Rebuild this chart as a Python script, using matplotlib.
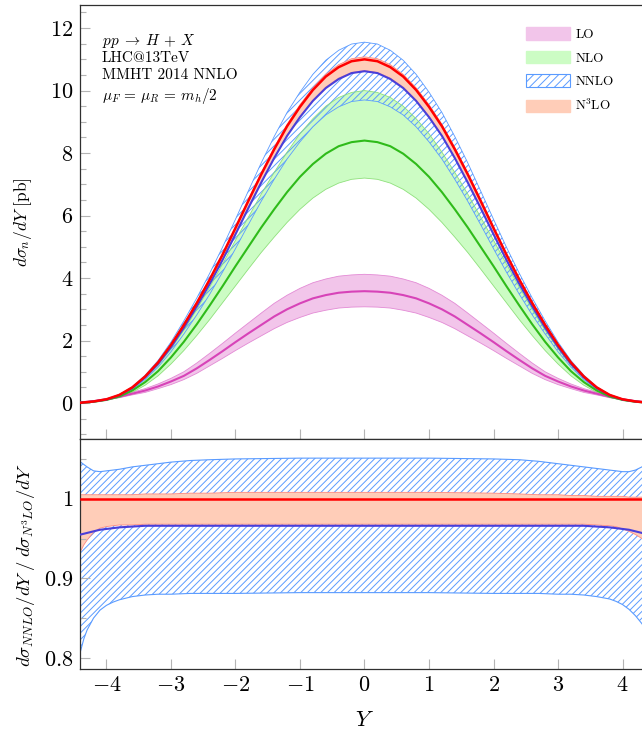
import matplotlib
matplotlib.use("Agg")
import matplotlib.pyplot as plt
from matplotlib.patches import Patch
from matplotlib.ticker import MultipleLocator, FuncFormatter

plt.rcParams['font.family'] = ['cmr10', 'DejaVu Serif']
plt.rcParams['mathtext.fontset'] = 'cm'
plt.rcParams['axes.formatter.use_mathtext'] = True
plt.rcParams['hatch.linewidth'] = 0.7

# colours
LO_LINE, LO_FILL, LO_EDGE = '#d743b8', '#f2c5ea', '#e38ad5'
NLO_LINE, NLO_FILL, NLO_EDGE = '#2fbb1a', '#ccfcc4', '#8fe07c'
NNLO_LINE, NNLO_EDGE = '#4a3fd9', '#5a9bff'
N3LO_LINE, N3LO_FILL, N3LO_EDGE = '#ff0000', '#ffcdb8', '#ff8a80'
plt.rcParams['hatch.color'] = NNLO_EDGE
HATCH = '/////'

# ---- top panel: d sigma / dY [pb]
Y_top = [-4.4, -4.2, -4.0, -3.8, -3.6, -3.4, -3.2, -3.0, -2.8, -2.6, -2.4, -2.2,
         -2.0, -1.8, -1.6, -1.4, -1.2, -1.0, -0.8, -0.6, -0.4, -0.2, 0.0,
         0.2, 0.4, 0.6, 0.8, 1.0, 1.2, 1.4, 1.6, 1.8, 2.0, 2.2,
         2.4, 2.6, 2.8, 3.0, 3.2, 3.4, 3.6, 3.8, 4.0, 4.2, 4.4]

lo_c = [0.02, 0.06, 0.12, 0.20, 0.30, 0.40, 0.53, 0.69, 0.87, 1.11, 1.38, 1.66, 1.95, 2.23, 2.5,
        2.77, 3.0, 3.19, 3.35, 3.455, 3.53, 3.565, 3.58, 3.565, 3.53, 3.455, 3.35, 3.19, 3.0,
        2.77, 2.5, 2.23, 1.95, 1.66, 1.38, 1.11, 0.87, 0.69, 0.53, 0.40, 0.30, 0.20, 0.12, 0.06, 0.02]
lo_hi = [0.02, 0.07, 0.14, 0.23, 0.345, 0.46, 0.61, 0.79, 1.0, 1.28, 1.59, 1.91, 2.24, 2.56, 2.88,
         3.19, 3.45, 3.67, 3.85, 3.97, 4.06, 4.10, 4.12, 4.10, 4.06, 3.97, 3.85, 3.67, 3.45,
         3.19, 2.88, 2.56, 2.24, 1.91, 1.59, 1.28, 1.0, 0.79, 0.61, 0.46, 0.345, 0.23, 0.14, 0.07, 0.02]
lo_lo = [0.02, 0.05, 0.10, 0.17, 0.26, 0.34, 0.46, 0.59, 0.75, 0.95, 1.19, 1.43, 1.68, 1.92, 2.15,
         2.38, 2.58, 2.74, 2.88, 2.97, 3.04, 3.07, 3.08, 3.07, 3.04, 2.97, 2.88, 2.74, 2.58,
         2.38, 2.15, 1.92, 1.68, 1.43, 1.19, 0.95, 0.75, 0.59, 0.46, 0.34, 0.26, 0.17, 0.10, 0.05, 0.02]

nlo_c = [0.01, 0.04, 0.1, 0.21, 0.4, 0.67, 1.02, 1.46, 1.96, 2.52, 3.12, 3.74, 4.38, 5.0, 5.62,
         6.2, 6.75, 7.24, 7.65, 7.98, 8.22, 8.35, 8.4, 8.35, 8.22, 7.98, 7.65, 7.24, 6.75,
         6.2, 5.62, 5.0, 4.38, 3.74, 3.12, 2.52, 1.96, 1.46, 1.02, 0.67, 0.4, 0.21, 0.1, 0.04, 0.01]
nlo_hi = [0.01, 0.05, 0.12, 0.25, 0.48, 0.80, 1.21, 1.74, 2.33, 3.0, 3.71, 4.45, 5.21, 5.95, 6.69,
          7.38, 8.03, 8.62, 9.1, 9.5, 9.78, 9.94, 10.0, 9.94, 9.78, 9.5, 9.1, 8.62, 8.03,
          7.38, 6.69, 5.95, 5.21, 4.45, 3.71, 3.0, 2.33, 1.74, 1.21, 0.80, 0.48, 0.25, 0.12, 0.05, 0.01]
nlo_lo = [0.01, 0.03, 0.09, 0.18, 0.34, 0.57, 0.87, 1.25, 1.68, 2.16, 2.67, 3.21, 3.75, 4.29, 4.82,
          5.31, 5.78, 6.2, 6.56, 6.84, 7.04, 7.16, 7.2, 7.16, 7.04, 6.84, 6.56, 6.2, 5.78,
          5.31, 4.82, 4.29, 3.75, 3.21, 2.67, 2.16, 1.68, 1.25, 0.87, 0.57, 0.34, 0.18, 0.09, 0.03, 0.01]

nnlo_c = [0.01, 0.05, 0.11, 0.25, 0.48, 0.82, 1.25, 1.79, 2.41, 3.09, 3.81, 4.58, 5.40, 6.24, 7.06,
          7.84, 8.55, 9.15, 9.67, 10.08, 10.37, 10.56, 10.62, 10.56, 10.37, 10.08, 9.67, 9.15, 8.55,
          7.84, 7.06, 6.24, 5.40, 4.58, 3.81, 3.09, 2.41, 1.79, 1.25, 0.82, 0.48, 0.25, 0.11, 0.05, 0.01]
nnlo_hi = [0.01, 0.05, 0.12, 0.27, 0.52, 0.89, 1.36, 1.95, 2.63, 3.36, 4.15, 4.99, 5.88, 6.79, 7.69,
           8.53, 9.30, 9.95, 10.52, 10.97, 11.29, 11.49, 11.55, 11.49, 11.29, 10.97, 10.52, 9.95, 9.30,
           8.53, 7.69, 6.79, 5.88, 4.99, 4.15, 3.36, 2.63, 1.95, 1.36, 0.89, 0.52, 0.27, 0.12, 0.05, 0.01]
nnlo_lo = [0.01, 0.04, 0.11, 0.23, 0.44, 0.75, 1.15, 1.64, 2.21, 2.82, 3.48, 4.19, 4.94, 5.71, 6.46,
           7.16, 7.81, 8.36, 8.84, 9.22, 9.48, 9.65, 9.70, 9.65, 9.48, 9.22, 8.84, 8.36, 7.81,
           7.16, 6.46, 5.71, 4.94, 4.19, 3.48, 2.82, 2.21, 1.64, 1.15, 0.75, 0.44, 0.23, 0.11, 0.04, 0.01]

n3lo_c = [0.01, 0.05, 0.12, 0.26, 0.5, 0.85, 1.3, 1.86, 2.5, 3.2, 3.95, 4.75, 5.6, 6.47, 7.32,
          8.12, 8.86, 9.48, 10.02, 10.45, 10.75, 10.94, 11.0, 10.94, 10.75, 10.45, 10.02, 9.48, 8.86,
          8.12, 7.32, 6.47, 5.6, 4.75, 3.95, 3.2, 2.5, 1.86, 1.3, 0.85, 0.5, 0.26, 0.12, 0.05, 0.01]
n3lo_hi = [0.01, 0.05, 0.12, 0.26, 0.50, 0.86, 1.31, 1.87, 2.52, 3.22, 3.98, 4.78, 5.64, 6.52, 7.37,
           8.18, 8.92, 9.55, 10.09, 10.52, 10.83, 11.02, 11.08, 11.02, 10.83, 10.52, 10.09, 9.55, 8.92,
           8.18, 7.37, 6.52, 5.64, 4.78, 3.98, 3.22, 2.52, 1.87, 1.31, 0.86, 0.50, 0.26, 0.12, 0.05, 0.01]
n3lo_lo = [0.01, 0.05, 0.12, 0.25, 0.48, 0.82, 1.26, 1.80, 2.42, 3.09, 3.82, 4.59, 5.42, 6.26, 7.08,
           7.85, 8.57, 9.17, 9.69, 10.11, 10.40, 10.58, 10.64, 10.58, 10.40, 10.11, 9.69, 9.17, 8.57,
           7.85, 7.08, 6.26, 5.42, 4.59, 3.82, 3.09, 2.42, 1.80, 1.26, 0.82, 0.48, 0.25, 0.12, 0.05, 0.01]

# ---- bottom panel: ratio to N3LO
Y_rat = [-4.4, -4.35, -4.3, -4.2, -4.1, -4.0, -3.9, -3.8, -3.6, -3.4, -3.2, -3.0, -2.7, -2.4, -2.0, -1.0,
         0.0, 1.0, 2.0, 2.4, 2.7, 3.0, 3.2, 3.4, 3.6, 3.8, 3.9, 4.0, 4.1, 4.2, 4.3, 4.4]
r_nnlo_hi = [1.046, 1.043, 1.040, 1.035, 1.034, 1.035, 1.036, 1.037, 1.040, 1.042, 1.044, 1.046, 1.048, 1.049, 1.050, 1.051,
             1.051, 1.051, 1.050, 1.049, 1.047, 1.044, 1.042, 1.040, 1.038, 1.036, 1.035, 1.034, 1.034, 1.036, 1.040, 1.045]
r_nnlo_c = [0.955, 0.956, 0.957, 0.959, 0.961, 0.962, 0.963, 0.964, 0.965, 0.966, 0.966, 0.966, 0.966, 0.966, 0.966, 0.966,
            0.966, 0.966, 0.966, 0.966, 0.966, 0.966, 0.966, 0.966, 0.965, 0.964, 0.963, 0.962, 0.961, 0.959, 0.957, 0.955]
r_nnlo_lo = [0.809, 0.824, 0.835, 0.850, 0.860, 0.866, 0.870, 0.873, 0.877, 0.879, 0.880, 0.880, 0.881, 0.881, 0.881, 0.882,
             0.882, 0.882, 0.881, 0.881, 0.881, 0.880, 0.880, 0.879, 0.877, 0.874, 0.871, 0.867, 0.861, 0.853, 0.843, 0.830]
r_n3lo_hi = [1.005, 1.005, 1.005, 1.005, 1.005, 1.005, 1.005, 1.005, 1.005, 1.006, 1.006, 1.006, 1.007, 1.007, 1.008, 1.008,
             1.008, 1.008, 1.007, 1.006, 1.005, 1.005, 1.004, 1.004, 1.003, 1.003, 1.003, 1.003, 1.002, 1.002, 1.002, 1.002]
r_n3lo_c = [1.0, 1.0, 1.0, 1.0, 1.0, 1.0, 1.0, 1.0, 1.0, 1.0, 1.0, 1.0, 1.0, 1.0, 1.0, 1.0,
            1.0, 1.0, 1.0, 1.0, 1.0, 1.0, 1.0, 1.0, 1.0, 1.0, 1.0, 1.0, 1.0, 1.0, 1.0, 1.0]
r_n3lo_lo = [0.934, 0.942, 0.948, 0.958, 0.963, 0.965, 0.966, 0.967, 0.967, 0.968, 0.968, 0.968, 0.968, 0.968, 0.968, 0.968,
             0.968, 0.968, 0.968, 0.968, 0.968, 0.968, 0.968, 0.968, 0.967, 0.966, 0.965, 0.962, 0.959, 0.955, 0.950, 0.944]

info_lines = [r"$pp\;\rightarrow\;H\,+\,X$", "LHC@13TeV", "MMHT 2014 NNLO",
              r"$\mu_F\,=\,\mu_R\,=\,m_h/2$"]
legend_labels = ["LO", "NLO", "NNLO", "N$^3$LO"]


def math_fmt(v, pos):
    return r"$%g$" % round(v, 6)


def style_axis(ax):
    for s in ax.spines.values():
        s.set_color('#303030')
        s.set_linewidth(0.9)
    ax.tick_params(which='both', direction='in', color='#b4b4b4', width=0.8,
                   top=False, right=False, labelsize=16, pad=5)
    ax.tick_params(which='major', length=7)
    ax.tick_params(which='minor', length=4)
    ax.set_xlim(-4.41, 4.41)
    ax.xaxis.set_major_locator(MultipleLocator(1))


fig = plt.figure(figsize=(6.42, 7.31), dpi=100)
ax1 = fig.add_axes([0.1246, 0.3995, 0.8863, 0.5937])
ax2 = fig.add_axes([0.1246, 0.0848, 0.8863, 0.3146])

# top panel
ax1.fill_between(Y_top, lo_lo, lo_hi, facecolor=LO_FILL, edgecolor='none', zorder=1)
ax1.fill_between(Y_top, nlo_lo, nlo_hi, facecolor=NLO_FILL, edgecolor='none', zorder=1.1)
ax1.fill_between(Y_top, nnlo_lo, nnlo_hi, facecolor='none', edgecolor=NNLO_EDGE,
                 hatch=HATCH, linewidth=0, zorder=1.2)
ax1.fill_between(Y_top, n3lo_lo, n3lo_hi, facecolor=N3LO_FILL, edgecolor='none', zorder=1.3)
for lo, hi, c, e, lc in [(lo_lo, lo_hi, lo_c, LO_EDGE, LO_LINE),
                         (nlo_lo, nlo_hi, nlo_c, NLO_EDGE, NLO_LINE),
                         (nnlo_lo, nnlo_hi, nnlo_c, NNLO_EDGE, NNLO_LINE),
                         (n3lo_lo, n3lo_hi, n3lo_c, N3LO_EDGE, N3LO_LINE)]:
    ax1.plot(Y_top, lo, color=e, lw=0.6, zorder=2)
    ax1.plot(Y_top, hi, color=e, lw=0.6, zorder=2)
    ax1.plot(Y_top, c, color=lc, lw=1.8 if lc == N3LO_LINE else 1.5, zorder=3)

style_axis(ax1)
ax1.set_ylim(-1.15, 12.74)
ax1.yaxis.set_major_locator(MultipleLocator(2))
ax1.yaxis.set_minor_locator(MultipleLocator(0.5))
ax1.yaxis.set_major_formatter(FuncFormatter(math_fmt))
ax1.tick_params(axis='x', labelbottom=False)
ax1.set_ylabel(r"$d\sigma_n/dY$ [pb]", fontsize=12.5)
ax1.yaxis.set_label_coords(-0.081, 0.5)

ys = [41, 58, 75, 96]
for t, yp in zip(info_lines, ys):
    ax1.text(0.0387, 1 - (yp - 5) / 434.0, t, transform=ax1.transAxes,
             fontsize=11, va='center', ha='left')

handles = [Patch(facecolor=LO_FILL, edgecolor=LO_FILL),
           Patch(facecolor=NLO_FILL, edgecolor=NLO_FILL),
           Patch(facecolor='white', edgecolor=NNLO_EDGE, hatch='////', lw=0.8),
           Patch(facecolor=N3LO_FILL, edgecolor=N3LO_FILL)]
fig.legend(handles, legend_labels, loc='upper left',
           bbox_to_anchor=(526 / 642.0, 1 - 27 / 731.0), frameon=False,
           fontsize=9.5, handlelength=3.3, handleheight=1.1, labelspacing=0.75,
           handletextpad=0.45, borderpad=0, borderaxespad=0)

# bottom panel
ax2.fill_between(Y_rat, r_nnlo_lo, r_nnlo_hi, facecolor='none', edgecolor=NNLO_EDGE,
                 hatch=HATCH, linewidth=0, zorder=1.2)
ax2.fill_between(Y_rat, r_n3lo_lo, r_n3lo_hi, facecolor=N3LO_FILL, edgecolor='none', zorder=1.3)
ax2.plot(Y_rat, r_nnlo_lo, color=NNLO_EDGE, lw=0.8, zorder=2)
ax2.plot(Y_rat, r_nnlo_hi, color=NNLO_EDGE, lw=0.8, zorder=2)
ax2.plot(Y_rat, r_n3lo_lo, color=N3LO_EDGE, lw=0.6, zorder=2)
ax2.plot(Y_rat, r_n3lo_hi, color=N3LO_EDGE, lw=0.6, zorder=2)
ax2.plot(Y_rat, r_nnlo_c, color=NNLO_LINE, lw=1.5, zorder=3)
ax2.plot(Y_rat, r_n3lo_c, color=N3LO_LINE, lw=1.8, zorder=3)

style_axis(ax2)
ax2.set_ylim(0.786, 1.075)
ax2.yaxis.set_major_locator(MultipleLocator(0.1))
ax2.yaxis.set_minor_locator(MultipleLocator(0.05))
ax2.yaxis.set_major_formatter(FuncFormatter(math_fmt))
ax2.xaxis.set_major_formatter(FuncFormatter(math_fmt))
ax2.tick_params(axis='x', pad=5)
ax2.set_xlabel(r"$Y$", fontsize=16, labelpad=11)
ax2.set_ylabel(r"$\left.d\sigma_{NNLO}/dY\;\right/\;d\sigma_{N^3LO}/dY$", fontsize=13.5)
ax2.yaxis.set_label_coords(-0.0756, 0.45)

fig.savefig("out.png", dpi=100)
